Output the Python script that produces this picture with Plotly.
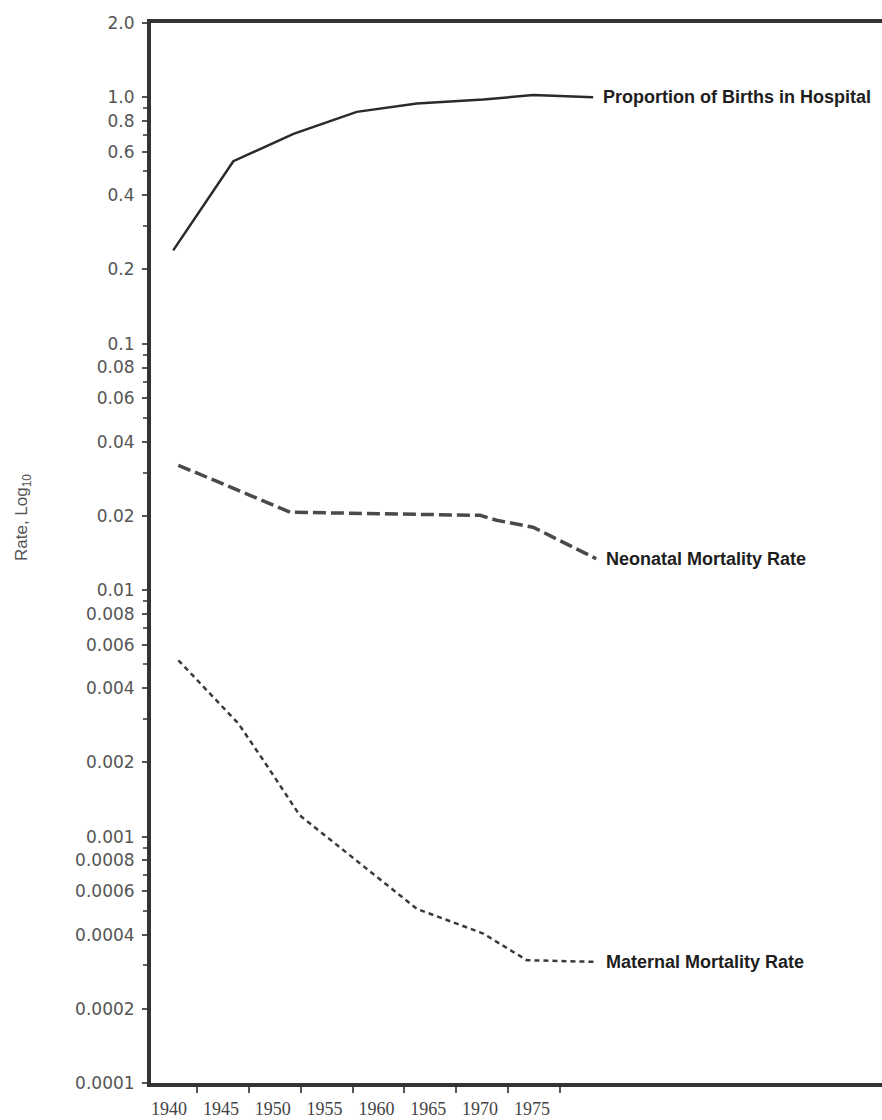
import numpy as np
import plotly.graph_objects as go

# ---- data ----
hosp_years = [1937.7, 1943.5, 1949.3, 1955.4, 1961.2, 1967.6, 1972.4, 1978.2]
hosp_vals = [0.239, 0.55, 0.71, 0.872, 0.943, 0.978, 1.02, 1.0]

neo_years = [1938.2, 1949.0, 1967.3, 1968.9, 1972.4, 1978.5]
neo_vals = [0.0321, 0.0207, 0.0201, 0.0192, 0.0180, 0.0134]

mat_years = [1938.2, 1944.0, 1946.6, 1949.9, 1961.2, 1967.6, 1971.8, 1978.5]
mat_vals = [0.00519, 0.00287, 0.00198, 0.00122, 0.000509, 0.000404, 0.000315, 0.000310]

series_labels = ["Proportion of Births in Hospital", "Neonatal Mortality Rate", "Maternal Mortality Rate"]

x_ticks = [1940, 1945, 1950, 1955, 1960, 1965, 1970, 1975]
y_tickvals = [2.0, 1.0, 0.8, 0.6, 0.4, 0.2, 0.1, 0.08, 0.06, 0.04, 0.02,
              0.01, 0.008, 0.006, 0.004, 0.002, 0.001, 0.0008, 0.0006,
              0.0004, 0.0002, 0.0001]
y_ticktext = ["2.0", "1.0", "0.8", "0.6", "0.4", "0.2", "0.1", "0.08", "0.06",
              "0.04", "0.02", "0.01", "0.008", "0.006", "0.004", "0.002",
              "0.001", "0.0008", "0.0006", "0.0004", "0.0002", "0.0001"]
y_minor = [0.9, 0.7, 0.5, 0.3, 0.09, 0.07, 0.05, 0.03, 0.009, 0.007, 0.005,
           0.003, 0.0009, 0.0007, 0.0005, 0.0003]

fig = go.Figure()
fig.add_trace(go.Scatter(x=hosp_years, y=hosp_vals, mode="lines",
                         line=dict(color="#2a2a2a", width=2.5)))
fig.add_trace(go.Scatter(x=neo_years, y=neo_vals, mode="lines",
                         line=dict(color="#4a4a4a", width=3.5, dash="13px,5px")))
fig.add_trace(go.Scatter(x=mat_years, y=mat_vals, mode="lines",
                         line=dict(color="#3a3a3a", width=2.5, dash="5px,4px")))

for xs, ys, lab in zip([hosp_years, neo_years, mat_years],
                       [hosp_vals, neo_vals, mat_vals], series_labels):
    fig.add_annotation(x=xs[-1], y=np.log10(ys[-1]), text=lab, showarrow=False,
                       xanchor="left", yanchor="middle", xshift=8,
                       font=dict(family="Liberation Sans", size=18, color="#1e1e1e",
                                 weight="bold"))

fig.add_annotation(xref="paper", yref="paper", x=(23 - 151) / 731, y=(1083 - 518) / 1060,
                   text="Rate, Log<sub>10</sub>", textangle=-90, showarrow=False,
                   xanchor="center", yanchor="middle",
                   font=dict(family="Liberation Sans", size=17, color="#555555"))

fig.update_layout(
    template="none",
    width=882, height=1120,
    margin=dict(l=151, r=0, t=23, b=37, autoexpand=False),
    paper_bgcolor="white", plot_bgcolor="white",
    showlegend=False,
    xaxis=dict(range=[1935.56, 2006.06], showgrid=False, zeroline=False,
               automargin=False,
               showline=True, linecolor="#333333", linewidth=4, mirror=True,
               tickvals=x_ticks, ticktext=[str(v) for v in x_ticks],
               ticks="outside", ticklen=6, tickwidth=1.5, tickcolor="#555555",
               ticklabelshift=-28, ticklabelstandoff=0,
               tickfont=dict(family="Liberation Serif", size=18, color="#444444")),
    yaxis=dict(type="log", range=[np.log10(0.0001), np.log10(2.0)], showgrid=False,
               automargin=False,
               zeroline=False, showline=True, linecolor="#333333", linewidth=4,
               tickvals=y_tickvals, ticktext=y_ticktext,
               ticks="outside", ticklen=5, tickwidth=1.5, tickcolor="#555555",
               ticklabelstandoff=4,
               minor=dict(tickvals=y_minor, ticks="outside", ticklen=4,
                          tickwidth=1.5, tickcolor="#666666"),
               tickfont=dict(family="DejaVu Sans", size=17, color="#555555")),
)

fig.write_html("out.html", config={"displayModeBar": False},
               post_script="document.body.style.margin='0';document.body.style.overflow='hidden';")
